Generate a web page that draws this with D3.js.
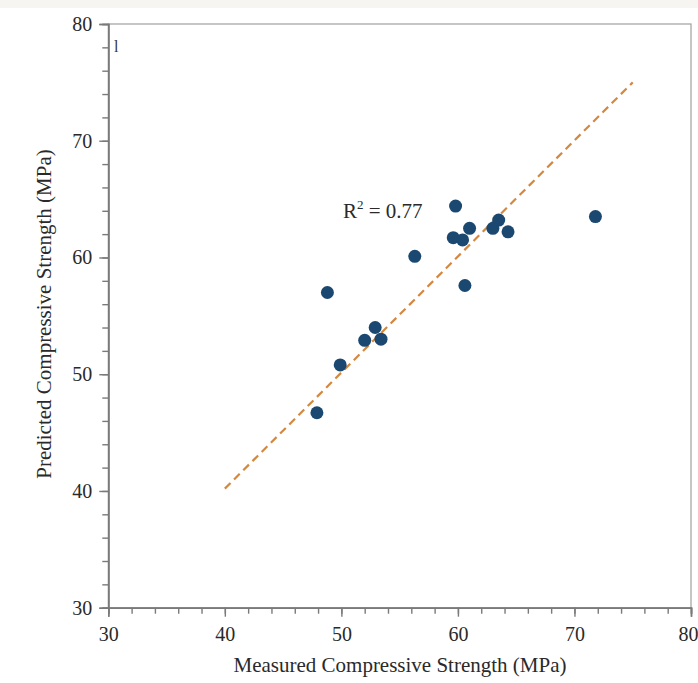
<!DOCTYPE html>
<html><head><meta charset="utf-8">
<script src="https://cdn.jsdelivr.net/npm/d3@7"></script>
<style>body{margin:0;background:#fff}svg{display:block}</style>
</head><body>
<script>
const measured =  [47.9, 48.8, 49.9, 52.0, 52.9, 53.4, 56.3, 59.6, 59.8, 60.4, 61.0, 60.6, 63.0, 63.5, 64.3, 71.8];
const predicted = [46.7, 57.0, 50.8, 52.9, 54.0, 53.0, 60.1, 61.7, 64.4, 61.5, 62.5, 57.6, 62.5, 63.2, 62.2, 63.5];
const fitLine = [[40, 40.2], [75, 75]];
const xTicks = [30, 40, 50, 60, 70, 80];
const yTicks = [30, 40, 50, 60, 70, 80];
const r2Label = "0.77";

const W = 698, H = 683;
const svg = d3.select("body").append("svg").attr("width", W).attr("height", H);
svg.append("rect").attr("x",0).attr("y",0).attr("width",W).attr("height",8).attr("fill","#f7f5f2");

const L = 108.3, R = 691, T = 24, B = 607.7;
const x = d3.scaleLinear().domain([30, 80]).range([L, R]);
const y = d3.scaleLinear().domain([30, 80]).range([B, T]);
const axisColor = "#7a7a7a";
const font = "'Liberation Serif', 'Times New Roman', serif";

// frame
svg.append("rect").attr("x", L).attr("y", T).attr("width", R - L).attr("height", B - T)
  .attr("fill", "none").attr("stroke", "#a0a0a0").attr("stroke-width", 1.2);

// minor ticks
const minor = d3.range(30, 80.1, 2);
const xa = svg.append("g").attr("transform", `translate(0,${B})`)
  .call(d3.axisBottom(x).tickValues(minor).tickSize(6).tickFormat(""));
const xb = svg.append("g").attr("transform", `translate(0,${B})`)
  .call(d3.axisBottom(x).tickValues(xTicks).tickSize(9).tickPadding(10).tickFormat(d3.format("d")));
const ya = svg.append("g").attr("transform", `translate(${L},0)`)
  .call(d3.axisLeft(y).tickValues(minor).tickSize(6).tickFormat(""));
const yb = svg.append("g").attr("transform", `translate(${L},0)`)
  .call(d3.axisLeft(y).tickValues(yTicks).tickSize(9).tickPadding(7).tickFormat(d3.format("d")));
[xa, xb, ya, yb].forEach(g => {
  g.selectAll("path.domain").attr("stroke", axisColor).attr("stroke-width", 1.6);
  g.selectAll("line").attr("stroke", axisColor).attr("stroke-width", 1.4);
  g.selectAll("text").attr("fill", "#2a2a2a").attr("font-family", font).attr("font-size", 20);
});
// keep the last x label inside the page
xb.selectAll(".tick text").filter(d => d === 80).attr("x", -3);

// stray mark
svg.append("text").attr("x", 114).attr("y", 52).attr("font-family", font).attr("font-size", 16).attr("fill","#333").text("l");

// fit line
const line = d3.line().x(d => x(d[0])).y(d => y(d[1]));
svg.append("path").datum(fitLine).attr("d", line).attr("fill", "none")
  .attr("stroke", "#d4883f").attr("stroke-width", 2.2).attr("stroke-dasharray", "8,5");

// points
svg.append("g").selectAll("circle").data(measured.map((m, i) => [m, predicted[i]]))
  .join("circle").attr("cx", d => x(d[0])).attr("cy", d => y(d[1])).attr("r", 6.5)
  .attr("fill", "#1b4870");

// R2 label
const t = svg.append("text").attr("x", 343).attr("y", 218).attr("font-family", font)
  .attr("font-size", 21).attr("fill", "#2a2a2a");
t.append("tspan").text("R");
t.append("tspan").attr("dy", -9).attr("font-size", 13).text("2");
t.append("tspan").attr("dy", 9).text(" = " + r2Label);

// axis titles
svg.append("text").attr("x", 400).attr("y", 672).attr("text-anchor", "middle")
  .attr("font-family", font).attr("font-size", 21).attr("fill", "#2a2a2a")
  .text("Measured Compressive Strength (MPa)");
svg.append("text").attr("transform", `translate(51,314) rotate(-90)`).attr("text-anchor", "middle")
  .attr("font-family", font).attr("font-size", 21).attr("fill", "#2a2a2a")
  .text("Predicted Compressive Strength (MPa)");
</script>
</body></html>
